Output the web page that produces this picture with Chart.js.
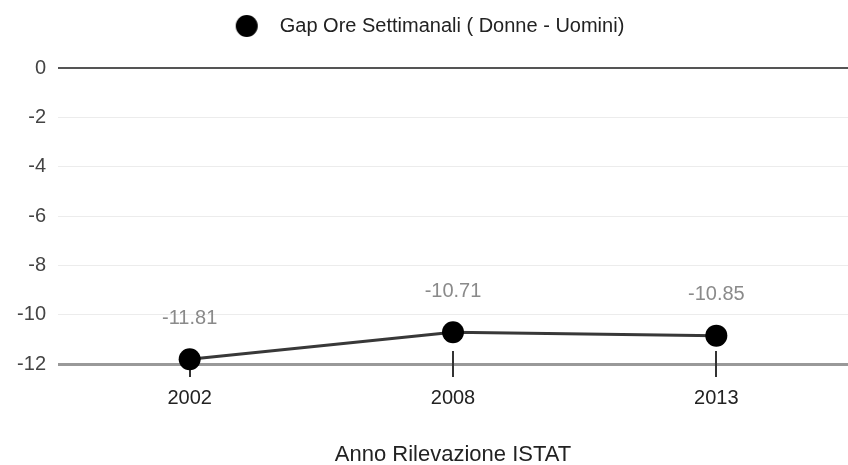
<!DOCTYPE html>
<html>
<head>
<meta charset="utf-8">
<script src="https://cdn.jsdelivr.net/npm/chart.js@4.4.1/dist/chart.umd.min.js"></script>
<style>
  html, body { margin: 0; padding: 0; background: #ffffff; }
  #wrap { position: relative; width: 848px; height: 465px; }
</style>
</head>
<body>
<div id="wrap"><canvas id="c"></canvas></div>
<script>
// ---- Data ----
const categories = ['2002', '2008', '2013'];
const gapValues = [-11.81, -10.71, -10.85];
const valueLabels = ['-11.81', '-10.71', '-10.85'];
const seriesName = 'Gap Ore Settimanali ( Donne - Uomini)';
const xAxisTitle = 'Anno Rilevazione ISTAT';
const yMin = -12;
const yMax = 0;
const yStep = 2;

const FONT = "'Liberation Sans', Arial, Helvetica, sans-serif";

// legend marker (circle with some left spacing)
const legendMarker = document.createElement('canvas');
legendMarker.width = 46; legendMarker.height = 24;
(function () {
  const g = legendMarker.getContext('2d');
  g.fillStyle = '#000';
  g.beginPath(); g.arc(23, 12, 11, 0, Math.PI * 2); g.fill();
})();

const legendHeight = {
  id: 'legendHeight',
  beforeInit(chart) {
    const orig = chart.legend.fit;
    chart.legend.fit = function () { orig.call(this); this.height = 68; };
  }
};

const tickMarks = {
  id: 'tickMarks',
  beforeDatasetsDraw(chart) {
    const x = chart.scales.x, y = chart.scales.y;
    const base = y.getPixelForValue(yMin);
    const ctx = chart.ctx;
    ctx.save();
    ctx.strokeStyle = '#333';
    ctx.lineWidth = 2;
    categories.forEach((c, i) => {
      const px = Math.round(x.getPixelForValue(i));
      ctx.beginPath(); ctx.moveTo(px, base - 13); ctx.lineTo(px, base + 13); ctx.stroke();
    });
    ctx.restore();
  }
};

const valueLabelPlugin = {
  id: 'valueLabels',
  afterDatasetsDraw(chart) {
    const meta = chart.getDatasetMeta(0);
    const ctx = chart.ctx;
    ctx.save();
    ctx.font = '20px ' + FONT;
    ctx.fillStyle = '#8a8a8a';
    ctx.textAlign = 'center';
    ctx.textBaseline = 'middle';
    meta.data.forEach((pt, i) => {
      ctx.fillText(valueLabels[i], pt.x, pt.y - 41);
    });
    ctx.restore();
  }
};

new Chart(document.getElementById('c'), {
  type: 'line',
  data: {
    labels: categories,
    datasets: [{
      label: seriesName,
      data: gapValues,
      borderColor: '#383838',
      borderWidth: 3,
      backgroundColor: '#000',
      pointBackgroundColor: '#000',
      pointBorderWidth: 0,
      pointRadius: 11,
      pointHoverRadius: 11,
      pointStyle: 'circle',
      tension: 0,
      fill: false,
      clip: false
    }]
  },
  options: {
    responsive: true,
    maintainAspectRatio: false,
    animation: false,
    layout: { autoPadding: false, padding: { left: 0, right: 0, top: 0, bottom: 0 } },
    plugins: {
      legend: {
        display: true,
        position: 'top',
        align: 'center',
        labels: {
          usePointStyle: true,
          pointStyle: legendMarker,
          pointStyleWidth: 46,
          boxHeight: 16,
          padding: 16,
          color: '#222',
          font: { family: FONT, size: 20 }
        }
      },
      tooltip: { enabled: false }
    },
    scales: {
      x: {
        type: 'category',
        offset: true,
        grid: { display: false, drawTicks: false },
        border: { display: false },
        ticks: { color: '#222', font: { family: FONT, size: 20 }, padding: 22, maxRotation: 0 },
        title: { display: true, text: xAxisTitle, color: '#222', font: { family: FONT, size: 22 }, padding: { top: 0, bottom: -3 } },
        afterFit(scale) { scale.height = 101; }
      },
      y: {
        min: yMin,
        max: yMax,
        ticks: { stepSize: yStep, color: '#444', font: { family: FONT, size: 20 }, padding: 12 },
        grid: {
          drawTicks: false,
          color(ctx) {
            const v = ctx.tick && ctx.tick.value;
            if (v === 0) return '#555';
            if (v === yMin) return '#999';
            return '#ececec';
          },
          lineWidth(ctx) {
            const v = ctx.tick && ctx.tick.value;
            if (v === 0) return 2;
            if (v === yMin) return 3;
            return 1;
          }
        },
        border: { display: false },
        afterFit(scale) { scale.width = 58; }
      }
    }
  },
  plugins: [legendHeight, tickMarks, valueLabelPlugin]
});
</script>
</body>
</html>
